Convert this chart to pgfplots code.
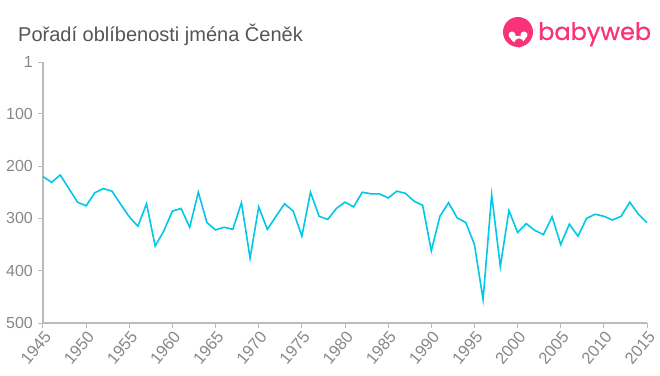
\documentclass[border=0pt]{standalone}
\usepackage{pgfplots}
\pgfplotsset{compat=1.18}
\usepackage{fontspec}
\setmainfont{Liberation Sans}
\newfontfamily\logofont{Poppins}[FakeBold=0.6]
\definecolor{linec}{RGB}{0,200,230}
\definecolor{axc}{RGB}{187,187,187}
\definecolor{tickc}{RGB}{136,136,136}
\definecolor{titlec}{RGB}{85,85,85}
\definecolor{logoc}{RGB}{250,50,120}
\begin{document}
\begin{tikzpicture}[x=1pt,y=1pt]
\path[use as bounding box] (0,0) rectangle (660,375);
\node[anchor=base west, text=titlec, font=\fontsize{20}{22}\selectfont, inner sep=0pt] at (18,333.3) {Pořadí oblíbenosti jména Čeněk};
\fill[logoc] (518,343) circle (15);
\fill[white] (510,339) -- (526,339) arc (0:-180:8 and 7) -- cycle;
\fill[white] (512,340) circle (3.5);
\fill[white] (524,340) circle (3.5);
\fill[logoc] (519,332) circle (4.6);
\node[anchor=base west, text=logoc, font=\logofont\fontsize{24}{26}\selectfont, inner sep=0pt] at (538,335) {babyweb};
\begin{axis}[
  at={(43pt,52pt)}, anchor=south west,
  scale only axis, width=604pt, height=261pt,
  xmin=1945, xmax=2015, ymin=1, ymax=500,
  y dir=reverse,
  axis x line=bottom, axis y line=left,
  axis line style={-, axc, line width=1.2pt},
  xtick={1945,1950,...,2015},
  ytick={1,100,200,300,400,500},
  tick align=outside,
  major tick length=5pt,
  tick style={axc, line width=1pt},
  /pgf/number format/1000 sep={},
  /pgf/number format/assume math mode=true,
  ticklabel style={text=tickc, font=\fontsize{16}{18}\selectfont},
  xticklabel style={rotate=50, anchor=north east, inner sep=1pt, font=\fontsize{16.5}{18}\selectfont},
  yticklabel style={inner sep=5pt},
  clip=false,
]
\addplot[linec, line width=1.6pt, mark=none] coordinates {
(1945,220)(1946,231)(1947,217)(1948,243)(1949,269)(1950,276)(1951,251)(1952,243)(1953,248)(1954,273)
(1955,297)(1956,315)(1957,272)(1958,353)(1959,324)(1960,286)(1961,281)(1962,317)(1963,250)(1964,308)
(1965,322)(1966,317)(1967,321)(1968,270)(1969,376)(1970,278)(1971,321)(1972,296)(1973,272)(1974,286)
(1975,334)(1976,250)(1977,296)(1978,302)(1979,281)(1980,269)(1981,278)(1982,250)(1983,253)(1984,253)
(1985,261)(1986,248)(1987,252)(1988,267)(1989,275)(1990,362)(1991,296)(1992,270)(1993,299)(1994,308)
(1995,350)(1996,455)(1997,255)(1998,392)(1999,285)(2000,327)(2001,310)(2002,323)(2003,331)(2004,297)
(2005,350)(2006,311)(2007,334)(2008,300)(2009,292)(2010,296)(2011,303)(2012,296)(2013,269)(2014,292)
(2015,308)
};
\end{axis}
\end{tikzpicture}
\end{document}
